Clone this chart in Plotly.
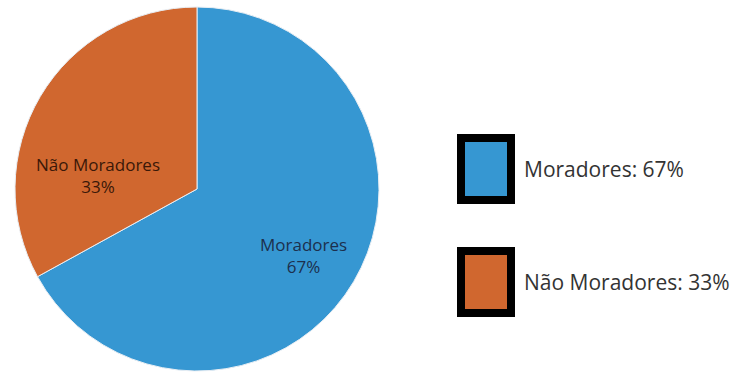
import math
import plotly.graph_objects as go

# Distribuição de moradores e não moradores
categorias = ["Moradores", "Não Moradores"]
percentuais = [67, 33]
cores = ["#3697d2", "#d0672f"]
cores_texto = ["#1c2f4d", "#3a1808"]

W, H = 733, 372
cx, cy, r = 197, 189, 182

fig = go.Figure(
    go.Pie(
        labels=categorias,
        values=percentuais,
        sort=False,
        direction="clockwise",
        rotation=0,
        marker=dict(colors=cores, line=dict(color="#e8eef4", width=1)),
        textinfo="none",
        showlegend=False,
        hoverinfo="none",
        domain=dict(
            x=[(cx - r) / W, (cx + r) / W],
            y=[(H - cy - r) / H, (H - cy + r) / H],
        ),
    )
)

# Rótulos dentro das fatias (ângulo horário a partir do topo, fração do raio)
posicoes_rotulo = [(122, 0.69), (278, 0.55)]
annotations = []
for nome, pct, cor_txt, (ang, frac) in zip(categorias, percentuais, cores_texto, posicoes_rotulo):
    a = math.radians(ang)
    px = cx + r * frac * math.sin(a)
    py = cy - r * frac * math.cos(a)
    annotations.append(dict(
        xref="paper", yref="paper", x=px / W, y=1 - py / H,
        xanchor="center", yanchor="middle", showarrow=False,
        text=f"{nome}<br>{pct}%", align="center",
        font=dict(family="Open Sans", size=17, color=cor_txt),
    ))

# Legenda desenhada à direita: quadrado com borda preta espessa + rótulo
legenda_y = [169, 282]
shapes = []
for nome, pct, cor, yc in zip(categorias, percentuais, cores, legenda_y):
    x0, x1 = 461, 511
    y0, y1 = yc - 31, yc + 31
    shapes.append(dict(
        type="rect", xref="paper", yref="paper",
        x0=x0 / W, x1=x1 / W, y0=1 - y1 / H, y1=1 - y0 / H,
        fillcolor=cor, line=dict(color="#000000", width=8),
    ))
    annotations.append(dict(
        xref="paper", yref="paper", x=522 / W, y=1 - yc / H,
        xanchor="left", yanchor="middle", showarrow=False,
        text=f"{nome}: {pct}%",
        font=dict(family="Open Sans", size=21, color="#333333"),
    ))

fig.update_layout(
    width=W, height=H,
    margin=dict(l=0, r=0, t=0, b=0),
    paper_bgcolor="white", plot_bgcolor="white",
    shapes=shapes, annotations=annotations,
)

fig.write_html("out.html")
